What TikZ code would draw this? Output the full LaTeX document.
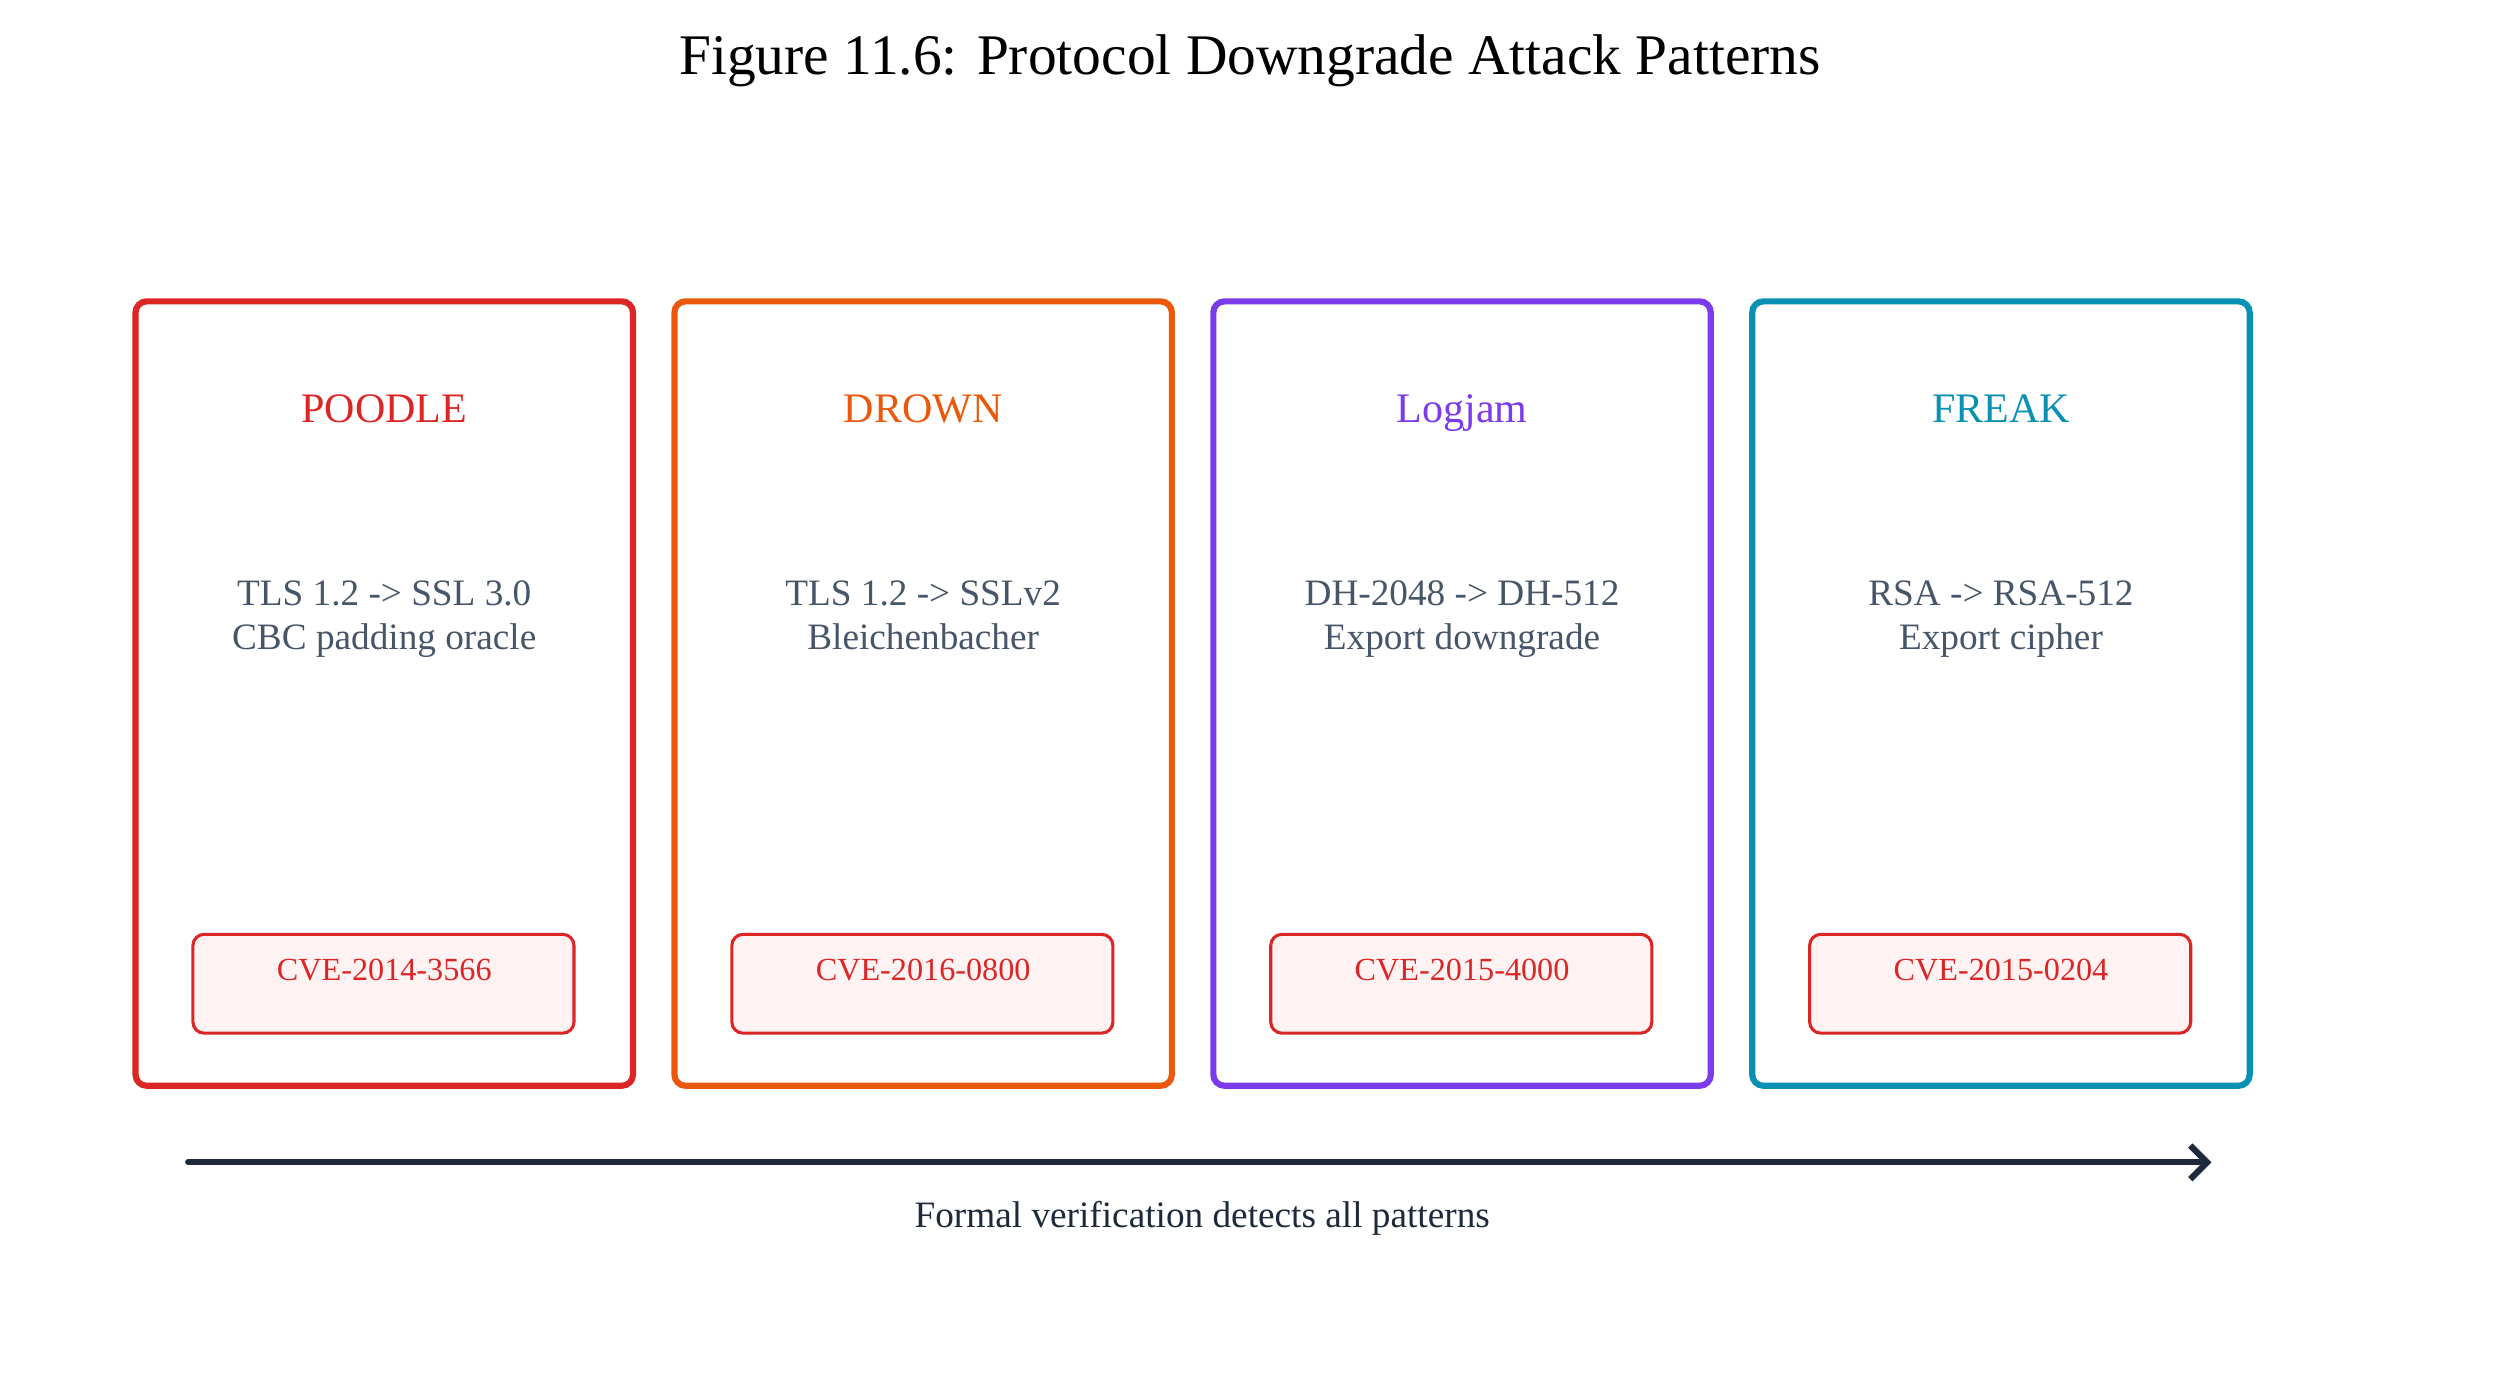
\documentclass[tikz,border=0pt]{standalone}
\usepackage{fontspec}
\usetikzlibrary{arrows.meta}
\setmainfont{Liberation Serif}
\definecolor{cred}{HTML}{DC2626}
\definecolor{corange}{HTML}{EA580C}
\definecolor{cpurple}{HTML}{7C3AED}
\definecolor{cteal}{HTML}{0891B2}
\definecolor{ctext}{HTML}{475569}
\definecolor{cdark}{HTML}{1E293B}
\definecolor{cvefill}{HTML}{FEF2F2}
\begin{document}
\begin{tikzpicture}[x=0.02cm,y=-0.02cm,
  every node/.style={text height=1.6ex,text depth=0.4ex},
  card/.style={draw=#1,line width=2.2pt,rounded corners=4pt},
  ttl/.style={text=#1,font=\fontsize{15}{18}\selectfont},
  body/.style={text=ctext,font=\fontsize{13.3}{15.5}\selectfont,align=center,text height=,text depth=},
  cve/.style={draw=cred,fill=cvefill,line width=1.1pt,rounded corners=4pt},
  cvet/.style={text=cred,font=\fontsize{11.5}{14}\selectfont}]
\useasboundingbox (0,0) rectangle (1568,866);
\node[font=\fontsize{20.5}{24}\selectfont] (title) at (784,42) {Figure 11.6: Protocol Downgrade Attack Patterns};
\foreach \n/\x/\c/\t/\a/\b/\v in {
 p/85/cred/POODLE/{TLS 1.2 -> SSL 3.0}/{CBC padding oracle}/CVE-2014-3566,
 d/423/corange/DROWN/{TLS 1.2 -> SSLv2}/Bleichenbacher/CVE-2016-0800,
 l/761/cpurple/Logjam/{DH-2048 -> DH-512}/{Export downgrade}/CVE-2015-4000,
 f/1099/cteal/FREAK/{RSA -> RSA-512}/{Export cipher}/CVE-2015-0204}{
  \draw[card=\c] (\x,189) rectangle ++(312,492);
  \node[ttl=\c] (t\n) at (\x+156,260) {\t};
  \node[body] (b\n) at (\x+156,388) {\strut\a\\\strut\b};
  \draw[cve] (\x+36,586) rectangle ++(239,62);
  \node[cvet] (c\n) at (\x+156,610) {\v};
}
\coordinate (a1) at (118,729);
\coordinate (a2) at (1387,729);
\draw[cdark,line width=2.2pt,line cap=round,-{Straight Barb[length=6pt]}] (a1) -- (a2);
\node[font=\fontsize{13.3}{15}\selectfont,text=cdark] (cap) at (754,765) {Formal verification detects all patterns};
\end{tikzpicture}
\end{document}
